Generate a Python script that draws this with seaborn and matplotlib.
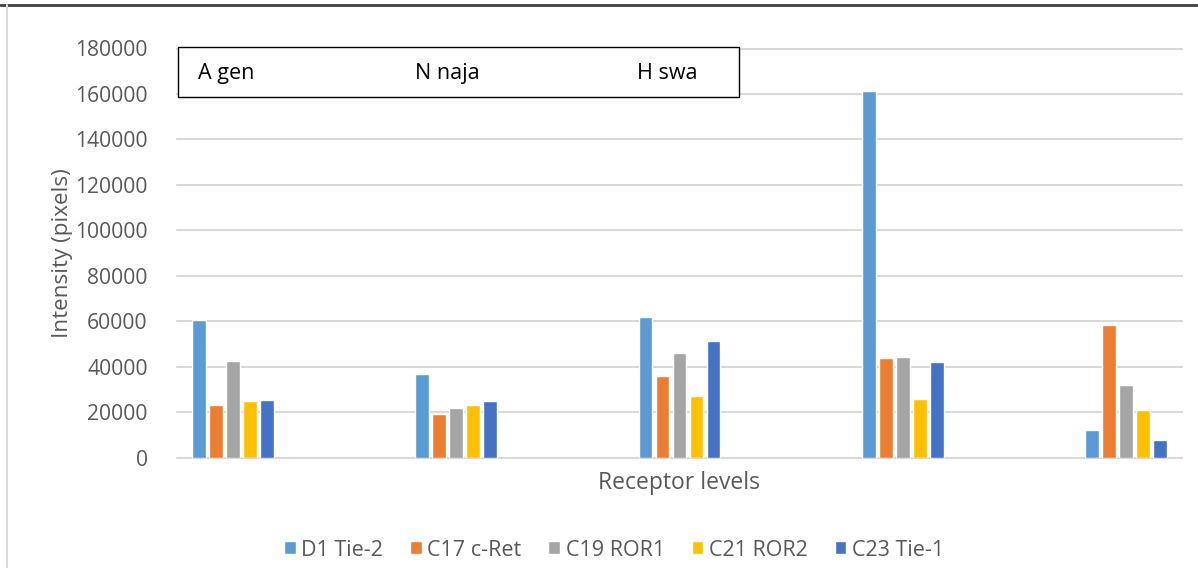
import matplotlib
matplotlib.use("Agg")
import matplotlib.pyplot as plt
from matplotlib.lines import Line2D
from matplotlib.patches import Rectangle
import seaborn as sns
import pandas as pd

groups = ["G1", "G2", "G3", "G4", "G5"]
series = ["D1 Tie-2", "C17 c-Ret", "C19 ROR1", "C21 ROR2", "C23 Tie-1"]
d1_tie2 = [60700, 36800, 61700, 161300, 11900]
c17_cret = [22900, 19000, 36000, 43800, 58100]
c19_ror1 = [42600, 21700, 46100, 44400, 32100]
c21_ror2 = [25000, 23000, 27200, 25600, 21100]
c23_tie1 = [25500, 25000, 51300, 41900, 7500]
box_labels = ["A gen", "N naja", "H swa"]
yticks = [0, 20000, 40000, 60000, 80000, 100000, 120000, 140000, 160000, 180000]
colors = ["#5B9BD5", "#ED7D31", "#A5A5A5", "#FFC000", "#4472C4"]

values = [d1_tie2, c17_cret, c19_ror1, c21_ror2, c23_tie1]
rows = []
for s, vals in zip(series, values):
    for g, v in zip(groups, vals):
        rows.append({"group": g, "series": s, "value": v})
df = pd.DataFrame(rows)

sns.set_theme(style="white")
plt.rcParams["font.family"] = ["Open Sans", "DejaVu Sans"]

fig = plt.figure(figsize=(11.98, 5.68), dpi=100)
ax = fig.add_axes([177 / 1198, (568 - 457.5) / 568, 1005 / 1198, 409 / 568])

sns.barplot(data=df, x="group", y="value", hue="series", order=groups,
            hue_order=series, palette=colors, width=0.381, gap=0.2,
            saturation=1, ax=ax, legend=True)

ax.set_ylim(0, 180000)
ax.set_xlim(-0.25, 4.25)
ax.set_yticks(yticks)
ax.set_yticklabels([str(t) for t in yticks])
ax.set_xticks([])
for sp in ax.spines.values():
    sp.set_visible(False)
ax.yaxis.grid(True, color="#D9D9D9", linewidth=1.5)
ax.set_axisbelow(True)
for gl in ax.get_ygridlines():
    gl.set_clip_on(False)
ax.tick_params(axis="y", length=0, pad=21, labelsize=15.2, labelcolor="#595959")

ax.set_ylabel("Intensity (pixels)", fontsize=16.2, color="#595959")
ax.yaxis.set_label_coords(-0.103, 0.5)
ax.set_xlabel("Receptor levels", fontsize=16.5, color="#595959")
ax.xaxis.set_label_coords(0.5, -0.034)

handles, labels = ax.get_legend_handles_labels()
ax.get_legend().remove()
fig.legend(handles, labels, loc="center", bbox_to_anchor=(614 / 1198, 1 - 550 / 568),
           ncol=5, frameon=False, fontsize=15.5, labelcolor="#595959",
           handlelength=0.55, handleheight=0.55, handletextpad=0.25, columnspacing=1.25)

# box with labels
fig.patches.append(Rectangle((178 / 1198, (568 - 97) / 568), 561 / 1198, 50 / 568,
                             transform=fig.transFigure, facecolor="white",
                             edgecolor="black", linewidth=1.0, zorder=5))
for lbl, px in zip(box_labels, [198, 415, 637]):
    fig.text(px / 1198, 1 - 74 / 568, lbl, fontsize=15.5, color="black",
             ha="left", va="center", zorder=6)

# chart border fragments
fig.add_artist(Line2D([0, 1], [1 - 5 / 568, 1 - 5 / 568], transform=fig.transFigure,
                      color="#404040", linewidth=2))
fig.add_artist(Line2D([7 / 1198, 7 / 1198], [0, 1 - 5 / 568], transform=fig.transFigure,
                      color="#D9D9D9", linewidth=1.5))

fig.savefig("out.png", dpi=100, facecolor="white")
